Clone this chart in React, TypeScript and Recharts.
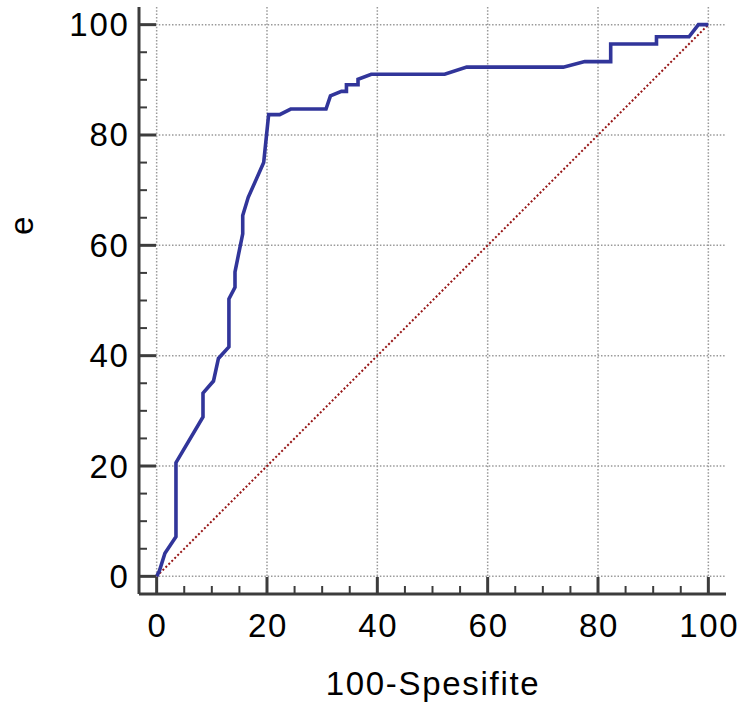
import React from 'react'
import { LineChart, Line, XAxis, YAxis, CartesianGrid } from 'recharts'

// ROC curve points
const fprValues = [0, 0.5, 1.5, 3.5, 3.5, 8.4, 8.4, 10.3, 11.2, 13.1, 13.1, 14.2, 14.2, 15.6, 15.6, 16.6, 19.4, 20.3, 22.3, 24.3, 30.7, 31.5, 33.5, 34.4, 34.4, 36.5, 36.5, 38.9, 52.2, 56.2, 73.7, 77.6, 82.3, 82.3, 90.6, 90.6, 96.5, 98.2, 100]
const tprValues = [0, 1, 4.2, 7.2, 20.6, 28.9, 33.2, 35.4, 39.5, 41.6, 50.3, 52.4, 55.2, 62.1, 65.4, 68.7, 75.0, 83.7, 83.7, 84.7, 84.7, 87.1, 87.9, 87.9, 89.1, 89.1, 90.1, 91.0, 91.0, 92.3, 92.3, 93.3, 93.3, 96.5, 96.5, 97.8, 97.8, 100, 100]

const diagX = [0, 100]
const diagY = [0, 100]

const axisTicks = [0, 5, 10, 15, 20, 25, 30, 35, 40, 45, 50, 55, 60, 65, 70, 75, 80, 85, 90, 95, 100]
const majorTicks = [0, 20, 40, 60, 80, 100]

const xTitle = '100-Spesifite'
const yTitle = 'e'

const rocData = fprValues.map((x, i) => ({ x, y: tprValues[i] }))
const diagData = diagX.map((x, i) => ({ x, y: diagY[i] }))

const axisColor = '#3c3c3c'
const font = '"Liberation Sans", Arial, sans-serif'
const textStyle = { fontFamily: font, fontSize: 33, letterSpacing: 1.7, fill: '#000' }

const XTick = (props: any) => {
  const { x, y, payload } = props
  const v = payload.value
  const major = majorTicks.includes(v)
  return (
    <g>
      <line x1={x} y1={y} x2={x} y2={y - (major ? 17 : 8)} stroke={axisColor} strokeWidth={major ? 3 : 2} />
      {major && (
        <text x={x + 1} y={y + 31} textAnchor="middle" dominantBaseline="central" style={textStyle}>
          {v}
        </text>
      )}
    </g>
  )
}

const YTick = (props: any) => {
  const { x, y, payload } = props
  const v = payload.value
  const major = majorTicks.includes(v)
  return (
    <g>
      <line x1={x} y1={y} x2={x + (major ? 17 : 8)} y2={y} stroke={axisColor} strokeWidth={major ? 3 : 2} />
      {major && (
        <text x={x - 9.5} y={y} textAnchor="end" dominantBaseline="central" style={textStyle}>
          {v}
        </text>
      )}
    </g>
  )
}

export default function App() {
  return (
    <div style={{ position: 'absolute', left: 0, top: 0, background: '#fff' }}>
      <LineChart width={744} height={705} margin={{ top: 7, right: 18, bottom: 0, left: 0 }}>
        <CartesianGrid
          stroke="#999"
          strokeDasharray="1.5 1.8"
          strokeWidth={1.5}
          verticalValues={majorTicks}
          horizontalValues={majorTicks}
        />
        <XAxis
          dataKey="x"
          type="number"
          domain={[-3.2, 103.2]}
          ticks={axisTicks}
          interval={0}
          allowDataOverflow
          height={111}
          tickSize={0}
          tickMargin={0}
          tickLine={false}
          axisLine={{ stroke: axisColor, strokeWidth: 3 }}
          tick={<XTick />}
        />
        <YAxis
          dataKey="y"
          type="number"
          domain={[-3.2, 103.2]}
          ticks={axisTicks}
          interval={0}
          allowDataOverflow
          width={139}
          tickSize={0}
          tickMargin={0}
          tickLine={false}
          axisLine={{ stroke: axisColor, strokeWidth: 3 }}
          tick={<YTick />}
        />
        <Line
          data={diagData}
          dataKey="y"
          stroke="#961616"
          strokeWidth={2}
          strokeDasharray="2 2.2"
          dot={false}
          activeDot={false}
          isAnimationActive={false}
        />
        <Line
          data={rocData}
          dataKey="y"
          type="linear"
          stroke="#31359a"
          strokeWidth={3.6}
          dot={false}
          activeDot={false}
          isAnimationActive={false}
        />
        <text x={433} y={683} textAnchor="middle" dominantBaseline="central" style={textStyle}>
          {xTitle}
        </text>
        <text
          x={21}
          y={225}
          textAnchor="middle"
          dominantBaseline="central"
          transform="rotate(-90 21 225)"
          style={textStyle}
        >
          {yTitle}
        </text>
      </LineChart>
    </div>
  )
}
